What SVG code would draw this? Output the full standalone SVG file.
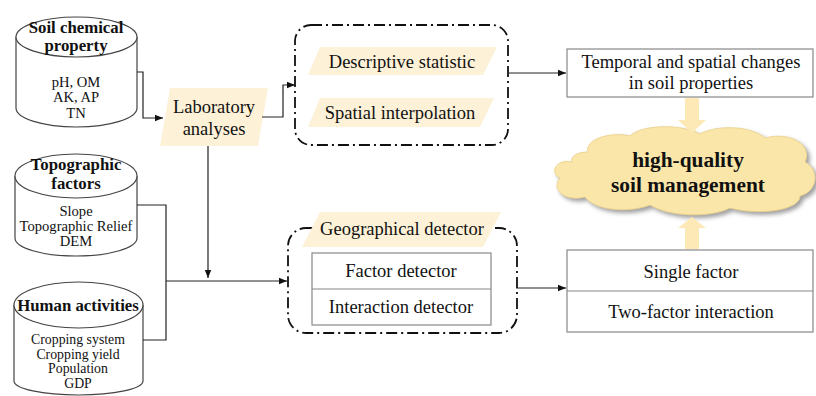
<svg xmlns="http://www.w3.org/2000/svg" width="816" height="396" viewBox="0 0 816 396">
<style>
text{font-family:"Liberation Serif","Times New Roman",serif;fill:#111;text-anchor:middle}
.cyl{fill:#fff;stroke:#444;stroke-width:1.2}
.h{font-weight:bold;font-size:16.8px}
.s{font-size:14.6px}
.s2{font-size:13.8px}
.m{font-size:18.5px}
.para{fill:#fdf1d8;stroke:none}
.dash{fill:none;stroke:#111;stroke-width:1.8;stroke-dasharray:11 4 2 4}
.box{fill:#fff;stroke:#888;stroke-width:1.2}
.conn{fill:none;stroke:#222;stroke-width:1.2}
.big{fill:#fde9b6}
.cloudt{font-weight:bold;font-size:21.4px}
</style>
<defs>
<marker id="ah" viewBox="0 0 10 10" refX="10" refY="5" markerWidth="8" markerHeight="8" markerUnits="userSpaceOnUse" orient="auto">
<path d="M0,1 L10,5 L0,9 Z" fill="#111"/>
</marker>
<filter id="sh" x="-10%" y="-10%" width="130%" height="140%">
<feDropShadow dx="3" dy="3" stdDeviation="2" flood-color="#777" flood-opacity="0.7"/>
</filter>
</defs>

<g id="soil-chemical">
<path class="cyl" d="M16,37 L16,108 A60.5,19 0 0 0 137,108 L137,37"/>
<ellipse class="cyl" cx="76.5" cy="37" rx="60.5" ry="20"/>
<text class="h" x="76" y="33">Soil chemical</text>
<text class="h" x="76" y="51">property</text>
<text class="s" x="76" y="87">pH, OM</text>
<text class="s" x="76" y="102">AK, AP</text>
<text class="s" x="76" y="118">TN</text>
</g>

<g id="topographic">
<path class="cyl" d="M15,176 L15,238 A61,18 0 0 0 137,238 L137,176"/>
<ellipse class="cyl" cx="76" cy="176" rx="61" ry="22"/>
<text class="h" x="76" y="170">Topographic</text>
<text class="h" x="76" y="189">factors</text>
<text class="s" x="76" y="216">Slope</text>
<text class="s" x="76" y="231">Topographic Relief</text>
<text class="s" x="76" y="246">DEM</text>
</g>

<g id="human">
<path class="cyl" d="M14,305 L14,381 A64.5,14 0 0 0 143,381 L143,305"/>
<ellipse class="cyl" cx="78.5" cy="305" rx="64.5" ry="23"/>
<text class="h" x="78" y="311">Human activities</text>
<text class="s2" x="78" y="344">Cropping system</text>
<text class="s2" x="78" y="358.5">Cropping yield</text>
<text class="s2" x="78" y="373">Population</text>
<text class="s2" x="78" y="387.5">GDP</text>
</g>

<g id="lab">
<polygon class="para" points="170,88 268,88 258,146 160,146"/>
<text class="m" x="214" y="113">Laboratory</text>
<text class="m" x="214" y="135">analyses</text>
</g>

<g id="analysis-group">
<rect class="dash" x="295" y="25" width="213" height="120" rx="16"/>
<polygon class="para" points="320,47 497,47 483,75 308,75"/>
<text class="m" x="402" y="68">Descriptive statistic</text>
<polygon class="para" points="320,98 494,98 480,127 308,127"/>
<text class="m" x="400" y="119">Spatial interpolation</text>
</g>

<g id="geo-detector">
<rect class="dash" x="288" y="228" width="229" height="105" rx="18"/>
<polygon class="para" points="320,212 501,212 483,247 302,247"/>
<text class="m" x="402" y="235">Geographical detector</text>
<rect class="box" x="312" y="253" width="179" height="72"/>
<line class="box" x1="312" y1="289" x2="491" y2="289"/>
<text class="m" x="401" y="277">Factor detector</text>
<text class="m" x="401" y="313">Interaction detector</text>
</g>

<g id="changes">
<rect class="box" x="567" y="49" width="246" height="48"/>
<text class="m" x="691" y="68">Temporal and spatial changes</text>
<text class="m" x="691" y="89">in soil properties</text>
</g>

<g id="results">
<rect class="box" x="567" y="250" width="246" height="82"/>
<line class="box" x1="567" y1="291" x2="813" y2="291"/>
<text class="m" x="691" y="278">Single factor</text>
<text class="m" x="691" y="318">Two-factor interaction</text>
</g>

<g id="cloud">
<path d="M572,162 C558,158 548,172 560,178 C550,190 566,202 585,197 C595,211 630,213 650,205 C670,217 710,218 730,208 C760,216 800,210 800,196 C818,191 820,170 805,162 C813,145 790,131 765,138 C750,125 715,125 700,134 C680,123 640,125 630,136 C610,131 584,140 588,152 C578,152 570,156 572,162 Z" fill="#fbe6a9" stroke="#e8cf88" stroke-width="0.8" filter="url(#sh)"/>
<text class="cloudt" x="688" y="167">high-quality</text>
<text class="cloudt" x="688" y="192">soil management</text>
</g>

<g id="connectors">
<path class="conn" d="M137,72 H143 V118 H163" marker-end="url(#ah)"/>
<path class="conn" d="M262,117 H283 V85 H295" marker-end="url(#ah)"/>
<path class="conn" d="M508,73 H566" marker-end="url(#ah)"/>
<path class="conn" d="M137,205 H166 V340 H143"/>
<path class="conn" d="M166,281 H287" marker-end="url(#ah)"/>
<path class="conn" d="M208,146 V278" marker-end="url(#ah)"/>
<path class="conn" d="M516,288 H566" marker-end="url(#ah)"/>
<polygon class="big" points="685,98 699,98 699,120 706,120 692,133 678,120 685,120"/>
<polygon class="big" points="692,217 706,228 699,228 699,249 685,249 685,228 678,228"/>
</g>
</svg>
